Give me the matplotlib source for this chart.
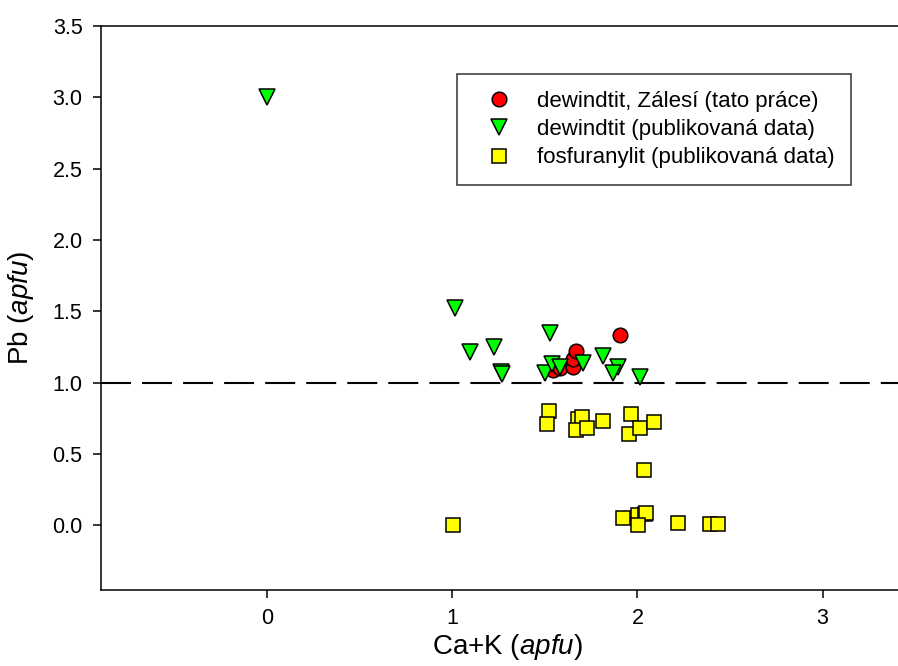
import matplotlib
matplotlib.use("Agg")
import matplotlib.pyplot as plt

plt.rcParams["font.family"] = ["Liberation Sans", "DejaVu Sans"]
plt.rcParams["mathtext.fontset"] = "custom"
plt.rcParams["mathtext.rm"] = "Liberation Sans"
plt.rcParams["mathtext.it"] = "Liberation Sans:italic"

# dewindtit, Zálesí (this work)
zal_x = [1.542, 1.580, 1.650, 1.650, 1.667, 1.904]
zal_y = [1.090, 1.103, 1.110, 1.168, 1.224, 1.334]

# dewindtit, published data
dew_x = [0.0, 1.012, 1.094, 1.223, 1.262, 1.268, 1.526, 1.499, 1.537,
         1.580, 1.704, 1.812, 1.894, 1.867, 2.012]
dew_y = [3.0, 1.525, 1.216, 1.251, 1.075, 1.062, 1.349, 1.068, 1.131,
         1.110, 1.138, 1.187, 1.110, 1.068, 1.040]

# fosfuranylit, published data
fos_x = [1.521, 1.510, 1.680, 1.699, 1.666, 1.726, 1.812, 1.964, 1.953,
         2.012, 2.088, 2.034, 1.002, 1.920, 2.001, 2.040, 2.044, 2.001,
         2.218, 2.391, 2.434]
fos_y = [0.803, 0.711, 0.745, 0.759, 0.669, 0.683, 0.732, 0.781, 0.641,
         0.683, 0.725, 0.388, 0.0, 0.051, 0.072, 0.080, 0.086, 0.0,
         0.016, 0.009, 0.009]

fig = plt.figure(figsize=(8.98, 6.66), dpi=100)
ax = fig.add_axes([0.1121, 0.1141, 1.019 - 0.1121, 0.9607 - 0.1141])

ax.axhline(1.0, color="black", lw=1.5, ls=(0, (14.4, 5.3)), zorder=1)

ax.plot(zal_x, zal_y, "o", ms=10.5, mfc="#ff0000", mec="black", mew=1.1,
        label="dewindtit, Zálesí (tato práce)", zorder=3)
ax.plot(dew_x, dew_y, "v", ms=11.5, mfc="#00ff00", mec="black", mew=1.1,
        label="dewindtit (publikovaná data)", zorder=4)
ax.plot(fos_x, fos_y, "s", ms=9.5, mfc="#ffff00", mec="black", mew=1.1,
        label="fosfuranylit (publikovaná data)", zorder=3)

ax.set_xlim(-0.9, 3.5)
ax.set_ylim(-0.454, 3.5)
ax.set_xticks([0, 1, 2, 3])
ax.set_yticks([0.0, 0.5, 1.0, 1.5, 2.0, 2.5, 3.0, 3.5])
ax.set_yticklabels([f"{v:.1f}" for v in ax.get_yticks()])
ax.tick_params(direction="out", length=6, width=1.1, labelsize=15.5, pad=7)
for s in ax.spines.values():
    s.set_linewidth(1.1)

ax.set_xlabel("Ca+K ($\\it{apfu}$)", fontsize=20, labelpad=2)
ax.set_ylabel("Pb ($\\it{apfu}$)", fontsize=20, labelpad=12)

leg = ax.legend(loc="upper left", bbox_to_anchor=(0.4376, 0.915),
                borderaxespad=0, fontsize=16, frameon=True, fancybox=False,
                edgecolor="black", borderpad=0.75, labelspacing=0.33,
                handlelength=2.3, handletextpad=0.55)
leg.get_frame().set_linewidth(1.1)

fig.savefig("out.png", dpi=100)
